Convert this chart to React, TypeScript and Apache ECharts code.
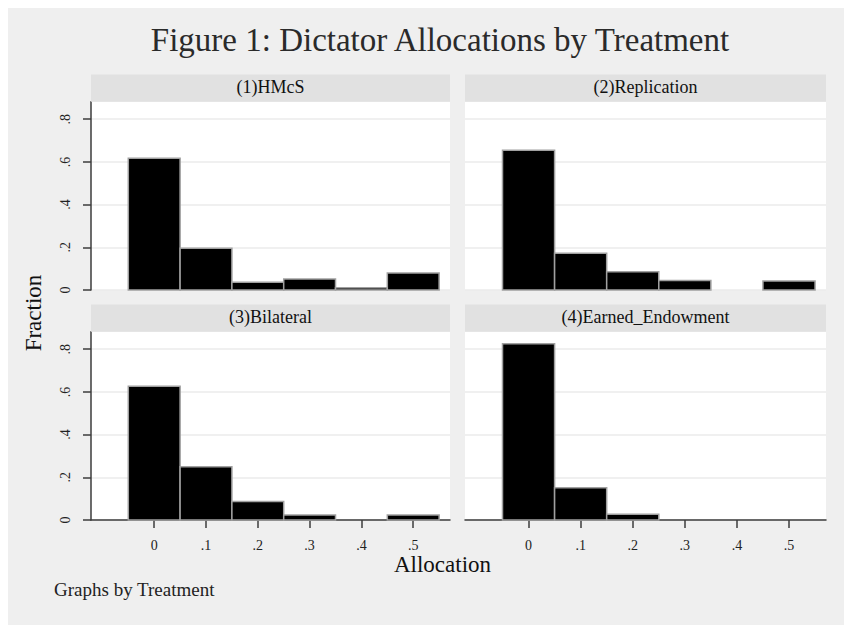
import React, { useEffect, useRef } from "react";
import * as echarts from "echarts";

const binCenters = [0, 0.1, 0.2, 0.3, 0.4, 0.5];
const hmcs = [0.617, 0.195, 0.036, 0.052, 0.011, 0.08];
const replication = [0.655, 0.172, 0.086, 0.044, 0, 0.042];
const bilateral = [0.626, 0.25, 0.087, 0.023, 0, 0.023];
const earned = [0.826, 0.151, 0.027, 0, 0, 0];
const panelTitles = ["(1)HMcS", "(2)Replication", "(3)Bilateral", "(4)Earned_Endowment"];
const yTicks = [0, 0.2, 0.4, 0.6, 0.8];
const xTicks = [0, 0.1, 0.2, 0.3, 0.4, 0.5];

const BIN_WIDTH = 0.1;
const FONT = "'Liberation Serif', 'DejaVu Serif', serif";
const BG = "#efefef";
const STRIP = "#e1e1e1";
const AXIS = "#3c3c3c";

const fmt = (v: number) => (Math.abs(v) < 1e-9 ? "0" : String(Math.round(v * 10) / 10).replace(/^0/, ""));

export default function App() {
  const ref = useRef<HTMLDivElement>(null);
  useEffect(() => {
    if (!ref.current) return;
    const chart = echarts.init(ref.current, null, { renderer: "svg" });
    const seriesValues = [hmcs, replication, bilateral, earned];
    const lefts = [83, 457];
    const widths = [359, 361];
    const tops = [93.7, 323.7];
    const H = 188.3;
    const grids: any[] = [];
    const xAxes: any[] = [];
    const yAxes: any[] = [];
    const series: any[] = [];
    const graphics: any[] = [];
    for (let i = 0; i < 4; i++) {
      const col = i % 2;
      const row = Math.floor(i / 2);
      grids.push({ left: lefts[col], top: tops[row], width: widths[col], height: H, show: true, backgroundColor: "#ffffff", borderWidth: 0 });
      graphics.push({
        type: "rect",
        shape: { x: lefts[col], y: tops[row] - 27.2, width: widths[col], height: 27.2 },
        style: { fill: STRIP },
        z: 1,
      });
      graphics.push({
        type: "text",
        x: lefts[col] + widths[col] / 2,
        y: tops[row] - 15,
        style: { text: panelTitles[i], font: `18px ${FONT}`, fill: "#111", align: "center", verticalAlign: "middle" },
        z: 2,
      });
      const showX = row === 1;
      const showY = col === 0;
      xAxes.push({
        gridIndex: i,
        type: "value",
        min: -0.122,
        max: 0.571,
        show: showX,
        axisLine: { show: showX, onZero: false, lineStyle: { color: AXIS, width: 1.5 } },
        axisTick: { show: showX, length: 8, customValues: xTicks, lineStyle: { color: AXIS, width: 1.5 } },
        axisLabel: { show: showX, customValues: xTicks, margin: 18, formatter: fmt, fontFamily: FONT, fontSize: 14, color: "#222" },
        splitLine: { show: false },
      });
      yAxes.push({
        gridIndex: i,
        type: "value",
        position: "left",
        min: 0,
        max: 0.882,
        axisLine: { show: showY, onZero: false, lineStyle: { color: AXIS, width: 1.5 } },
        axisTick: { show: showY, length: 8, customValues: yTicks, lineStyle: { color: AXIS, width: 1.5 } },
        axisLabel: { show: showY, customValues: yTicks, rotate: 90, margin: 19, formatter: fmt, fontFamily: FONT, fontSize: 14, color: "#222" },
        splitLine: { show: true, lineStyle: { color: "#ebebeb", width: 1.5 } },
      });
      series.push({
        type: "custom",
        xAxisIndex: i,
        yAxisIndex: i,
        encode: { x: 0, y: 1 },
        data: binCenters.map((c, k) => [c, seriesValues[i][k]]),
        renderItem: (params: any, api: any) => {
          const x = api.value(0);
          const y = api.value(1);
          if (!(y > 0)) return { type: "group", children: [] };
          const p0 = api.coord([x - BIN_WIDTH / 2, y]);
          const p1 = api.coord([x + BIN_WIDTH / 2, 0]);
          return {
            type: "rect",
            shape: { x: p0[0], y: p0[1], width: p1[0] - p0[0], height: p1[1] - p0[1] },
            style: { fill: "#000000", stroke: "#a0a0a0", lineWidth: 1.5 },
          };
        },
      });
    }
    graphics.push({
      type: "text",
      x: 432,
      y: 32,
      style: { text: "Figure 1: Dictator Allocations by Treatment", font: `33px ${FONT}`, fill: "#2a2a2a", align: "center", verticalAlign: "middle" },
    });
    graphics.push({
      type: "text",
      x: 25,
      y: 305,
      rotation: Math.PI / 2,
      style: { text: "Fraction", font: `23px ${FONT}`, fill: "#111", align: "center", verticalAlign: "middle" },
    });
    graphics.push({
      type: "text",
      x: 434.5,
      y: 556,
      style: { text: "Allocation", font: `23px ${FONT}`, fill: "#111", align: "center", verticalAlign: "middle" },
    });
    graphics.push({
      type: "text",
      x: 46,
      y: 581,
      style: { text: "Graphs by Treatment", font: `19px ${FONT}`, fill: "#222", align: "left", verticalAlign: "middle" },
    });
    chart.setOption({
      animation: false,
      backgroundColor: BG,
      grid: grids,
      xAxis: xAxes,
      yAxis: yAxes,
      series,
      graphic: graphics,
    });
    return () => chart.dispose();
  }, []);
  return <div ref={ref} style={{ position: "absolute", left: 8, top: 8, width: 836, height: 617 }} />;
}
